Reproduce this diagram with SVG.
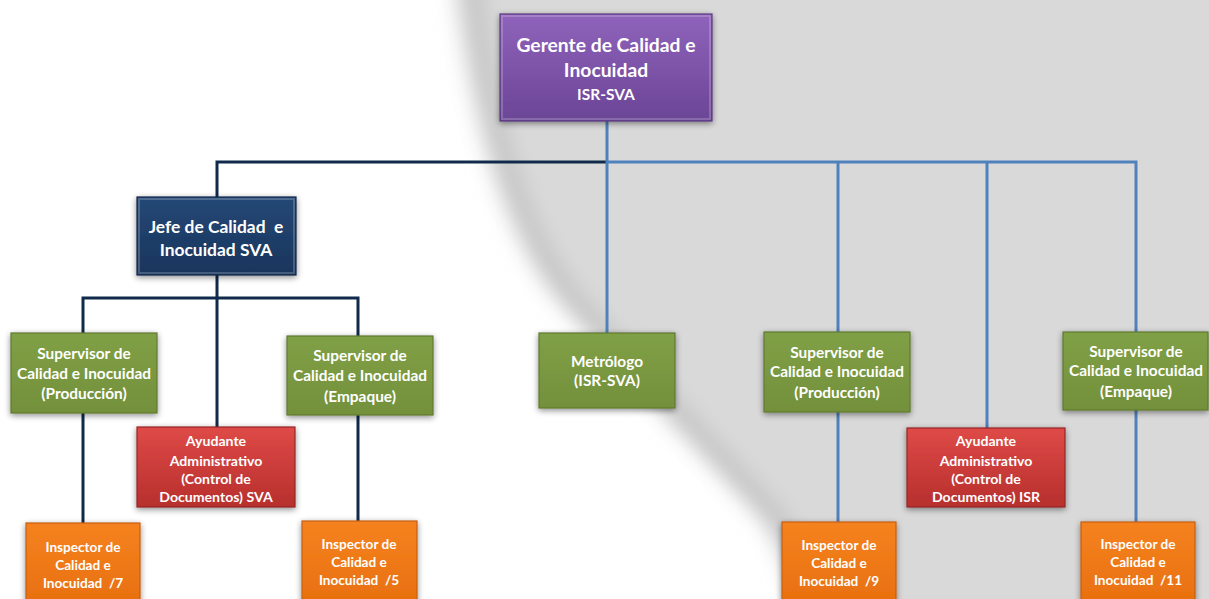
<svg xmlns="http://www.w3.org/2000/svg" width="1209" height="599" viewBox="0 0 1209 599">
<defs>
<linearGradient id="gPur" x1="0" y1="0" x2="0" y2="1"><stop offset="0" stop-color="#8f63bb"/><stop offset="1" stop-color="#6b4596"/></linearGradient>
<linearGradient id="gNav" x1="0" y1="0" x2="0" y2="1"><stop offset="0" stop-color="#254876"/><stop offset="1" stop-color="#19355c"/></linearGradient>
<linearGradient id="gGrn" x1="0" y1="0" x2="0" y2="1"><stop offset="0" stop-color="#80a046"/><stop offset="1" stop-color="#73903b"/></linearGradient>
<linearGradient id="gRed" x1="0" y1="0" x2="0" y2="1"><stop offset="0" stop-color="#de4a47"/><stop offset="1" stop-color="#b72f2d"/></linearGradient>
<linearGradient id="gOrg" x1="0" y1="0" x2="0" y2="1"><stop offset="0" stop-color="#f58220"/><stop offset="1" stop-color="#e8700f"/></linearGradient>
<filter id="sh" x="-20%" y="-20%" width="140%" height="150%"><feGaussianBlur in="SourceAlpha" stdDeviation="3"/><feOffset dx="0" dy="2"/><feComponentTransfer><feFuncA type="linear" slope="0.45"/></feComponentTransfer><feMerge><feMergeNode/><feMergeNode in="SourceGraphic"/></feMerge></filter>
<filter id="bl" x="-20%" y="-20%" width="140%" height="140%"><feGaussianBlur stdDeviation="11"/></filter>
<filter id="bl2" x="-50%" y="-20%" width="200%" height="140%"><feGaussianBlur stdDeviation="10"/></filter>
<style>
.box{stroke-width:1.2;filter:url(#sh)}
.pur{fill:url(#gPur);stroke:#5a3a80}
.nav{fill:url(#gNav);stroke:#132a4a}
.grn{fill:url(#gGrn);stroke:#5f7a30}
.red{fill:url(#gRed);stroke:#962524}
.org{fill:url(#gOrg);stroke:#c85e0c}
.hl{fill:none;stroke:#ffffff;stroke-opacity:0.2;stroke-width:2}
text{font-family:Lato,"Open Sans","Liberation Sans",sans-serif;font-weight:bold;fill:#ffffff;text-anchor:middle;white-space:pre}
.t18{font-size:19.3px}.t15{font-size:15.5px}.t16{font-size:17.4px}.t14{font-size:15.4px}.t13{font-size:14.1px}.t12{font-size:13.6px}
.cn{fill:none;stroke:#0f2a4a;stroke-width:3}
.cb{fill:none;stroke:#4f81bd;stroke-width:3}
</style>
</defs>
<rect x="0" y="0" width="1209" height="599" fill="#ffffff"/>
<g id="background-shadow">
<path d="M448,-60 C465,90 492,220 557,300 L757,515 C777,540 792,575 802,650 L1280,650 L1280,-60 Z" fill="#d9d9d9" filter="url(#bl)"/>
<path d="M468,-60 C484,100 511,220 576,300 L776,515 C796,540 811,575 821,650" fill="none" stroke="#bcbcbc" stroke-width="12" filter="url(#bl2)"/>
</g>

<g id="connectors">
<path class="cn" d="M607,162 H217 V197"/>
<path class="cb" d="M607,121 V333 M607,162 H1136 V332 M838,162 V332 M987,162 V428"/>
<path class="cn" d="M217,275 V298 M83,333 V298 H358 V336 M217,298 V427"/>
<path class="cn" d="M83,413 V523 M358,415 V521"/>
<path class="cb" d="M838,412 V522 M1136,410 V522"/>
</g>

<g id="gerente"><rect class="box pur" x="500" y="14" width="212" height="107"/><rect class="hl" x="502" y="16" width="208" height="103"/>
<text class="t18" x="606" y="52">Gerente de Calidad e</text><text class="t18" x="606" y="77">Inocuidad</text><text class="t15" x="606" y="100">ISR-SVA</text></g>

<g id="jefe"><rect class="box nav" x="137" y="197" width="159" height="78"/><rect class="hl" x="139" y="199" width="155" height="74"/>
<text class="t16" x="216" y="233">Jefe de Calidad  e</text><text class="t16" x="216" y="256">Inocuidad SVA</text></g>

<g id="sup-prod-sva"><rect class="box grn" x="11" y="333" width="146" height="80"/>
<text class="t14" x="84" y="359">Supervisor de</text><text class="t14" x="84" y="379">Calidad e Inocuidad</text><text class="t14" x="84" y="399">(Producción)</text></g>

<g id="ayud-sva"><rect class="box red" x="137" y="427" width="158" height="80"/>
<text class="t13" x="216" y="446">Ayudante</text><text class="t13" x="216" y="466">Administrativo</text><text class="t13" x="216" y="484">(Control de</text><text class="t13" x="216" y="502">Documentos) SVA</text></g>

<g id="sup-emp-sva"><rect class="box grn" x="287" y="336" width="146" height="79"/>
<text class="t14" x="360" y="361">Supervisor de</text><text class="t14" x="360" y="381">Calidad e Inocuidad</text><text class="t14" x="360" y="402">(Empaque)</text></g>

<g id="metrologo"><rect class="box grn" x="539" y="333" width="136" height="75"/>
<text class="t14" x="607" y="367">Metrólogo</text><text class="t14" x="607" y="386">(ISR-SVA)</text></g>

<g id="sup-prod-isr"><rect class="box grn" x="764" y="332" width="146" height="80"/>
<text class="t14" x="837" y="358">Supervisor de</text><text class="t14" x="837" y="377">Calidad e Inocuidad</text><text class="t14" x="837" y="398">(Producción)</text></g>

<g id="ayud-isr"><rect class="box red" x="907" y="428" width="158" height="79"/>
<text class="t13" x="986" y="446">Ayudante</text><text class="t13" x="986" y="466">Administrativo</text><text class="t13" x="986" y="484">(Control de</text><text class="t13" x="986" y="502">Documentos) ISR</text></g>

<g id="sup-emp-isr"><rect class="box grn" x="1063" y="332" width="145" height="78"/>
<text class="t14" x="1136" y="357">Supervisor de</text><text class="t14" x="1136" y="376">Calidad e Inocuidad</text><text class="t14" x="1136" y="397">(Empaque)</text></g>

<g id="insp7"><rect class="box org" x="26" y="523" width="114" height="80"/>
<text class="t12" x="83" y="552">Inspector de</text><text class="t12" x="83" y="570">Calidad e</text><text class="t12" x="83" y="588">Inocuidad  /7</text></g>

<g id="insp5"><rect class="box org" x="302" y="521" width="115" height="82"/>
<text class="t12" x="359" y="549">Inspector de</text><text class="t12" x="359" y="567">Calidad e</text><text class="t12" x="359" y="585">Inocuidad  /5</text></g>

<g id="insp9"><rect class="box org" x="782" y="522" width="114" height="81"/>
<text class="t12" x="839" y="550">Inspector de</text><text class="t12" x="839" y="568">Calidad e</text><text class="t12" x="839" y="586">Inocuidad  /9</text></g>

<g id="insp11"><rect class="box org" x="1081" y="522" width="114" height="81"/>
<text class="t12" x="1138" y="549">Inspector de</text><text class="t12" x="1138" y="567">Calidad e</text><text class="t12" x="1138" y="585">Inocuidad  /11</text></g>
</svg>
